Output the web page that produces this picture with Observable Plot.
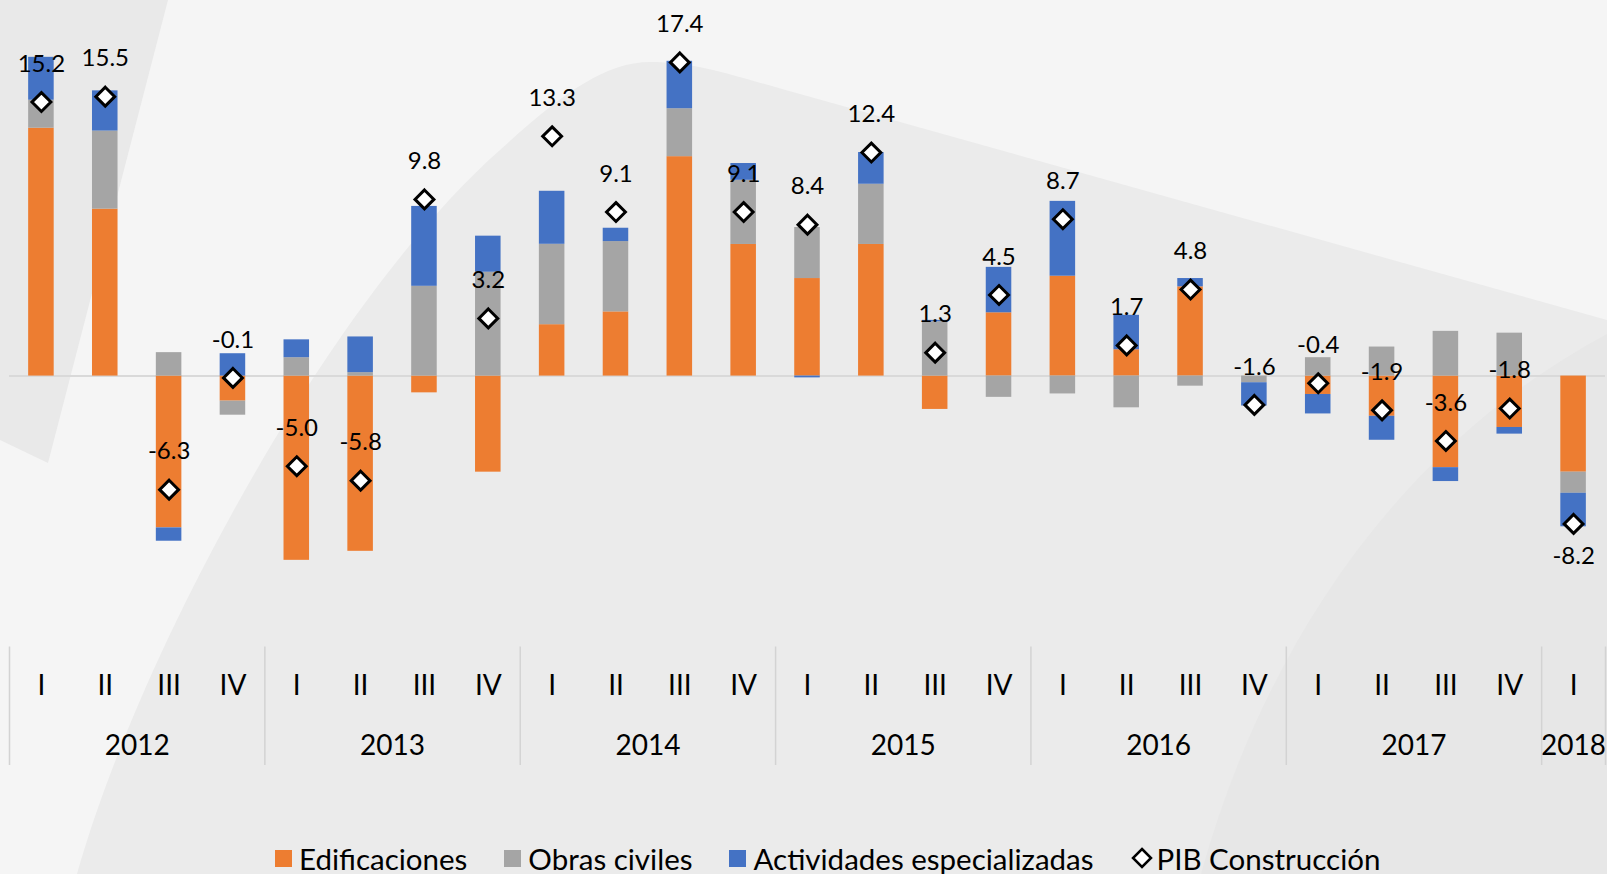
<!DOCTYPE html>
<html>
<head>
<meta charset="utf-8">
<script src="https://cdn.jsdelivr.net/npm/d3@7"></script>
<script src="https://cdn.jsdelivr.net/npm/@observablehq/plot@0.6"></script>
<style>
  html, body { margin: 0; padding: 0; background: #f5f5f5; font-family: Lato, "Open Sans", sans-serif; }
  #wrap { position: relative; width: 1607px; height: 874px; overflow: hidden; }
  #bg { position: absolute; left: 0; top: 0; }
  #chart { position: absolute; left: 0; top: 0; }
  #legend { position: absolute; left: 275px; top: 838px; height: 40px; display: flex; align-items: center;
            font-size: 29.5px; color: #000; white-space: nowrap; }
  .item { display: flex; align-items: center; margin-right: 37px; }
  .sw { width: 17px; height: 17px; margin-right: 7px; display: inline-block; }
  .dia { margin-right: 4px; }
</style>
</head>
<body>
<div id="wrap">
  <svg id="bg" width="1607" height="874">
    <path d="M0,0 L168,0 L48,463 L0,440 Z" fill="#e9e9e9"/>
    <path d="M77,874 C140,650 330,300 500,150 C560,95 605,62 650,62 C700,62 740,78 800,94 L1607,320 L1607,874 Z" fill="#ebebeb"/>
    <path d="M1201,874 C1260,660 1390,450 1607,334 L1607,874 Z" fill="#e7e7e7"/>
  </svg>
  <div id="chart"></div>
  <div id="legend"></div>
</div>
<script>
// ---- Data ----
const anio = [2012,2012,2012,2012,2013,2013,2013,2013,2014,2014,2014,2014,
              2015,2015,2015,2015,2016,2016,2016,2016,2017,2017,2017,2017,2018];
const trimestre = ["I","II","III","IV","I","II","III","IV","I","II","III","IV",
                   "I","II","III","IV","I","II","III","IV","I","II","III","IV","I"];
const edificaciones = [13.75, 9.26, -8.42, -1.39, -10.22, -9.72, -0.93, -5.33, 2.85, 3.56, 12.17, 7.30,
                       5.41, 7.30, -1.85, 3.51, 5.54, 1.46, 4.95, 0, -1.02, -2.23, -5.08, -2.85, -5.33];
const obrasCiviles = [1.55, 4.33, 1.30, -0.78, 1.02, 0.19, 4.98, 5.76, 4.46, 3.90, 2.66, 3.56,
                      2.83, 3.34, 3.01, -1.18, -0.99, -1.76, -0.56, -0.37, 1.02, 1.61, 2.48, 2.38, -1.17];
const actividades = [2.38, 2.23, -0.74, 1.24, 0.99, 1.98, 4.43, 2.00, 2.94, 0.74, 2.63, 0.93,
                     -0.10, 1.76, 0.08, 2.52, 4.15, 1.91, 0.46, -1.29, -1.08, -1.33, -0.77, -0.37, -1.86];
const pibConstruccion = [15.2, 15.5, -6.3, -0.1, -5.0, -5.8, 9.8, 3.2, 13.3, 9.1, 17.4, 9.1,
                         8.4, 12.4, 1.3, 4.5, 8.7, 1.7, 4.8, -1.6, -0.4, -1.9, -3.6, -1.8, -8.2];
const series = ["Edificaciones", "Obras civiles", "Actividades especializadas"];
const colores = ["#ED7D31", "#A5A5A5", "#4472C4"];
const pibNombre = "PIB Construcción";

// ---- Derived tables ----
const periodo = anio.map((a, i) => a + "-" + trimestre[i]);
const valoresSerie = [edificaciones, obrasCiviles, actividades];
const largo = [];
series.forEach((s, k) => valoresSerie[k].forEach((v, i) => largo.push({periodo: periodo[i], serie: s, valor: v})));
const pib = pibConstruccion.map((v, i) => ({periodo: periodo[i], valor: v}));
const minPib = d3.min(pibConstruccion);
const aniosUnicos = Array.from(new Set(anio));
const aniosCompletos = aniosUnicos.filter(a => anio.filter(x => x === a).length === 4);
const aniosParciales = aniosUnicos.filter(a => anio.filter(x => x === a).length !== 4);
const inicioAnio = aniosUnicos.map(a => a + "-" + trimestre[anio.indexOf(a)]);

// ---- Layout ----
const W = 1607, H = 790, mL = 9, mR = 2, mT = 15, mB = 25;
const step = (W - mL - mR) / periodo.length;

const chart = Plot.plot({
  width: W, height: H,
  marginLeft: mL, marginRight: mR, marginTop: mT, marginBottom: mB,
  style: {background: "transparent", fontFamily: "Lato, 'Open Sans', sans-serif", color: "#000", overflow: "visible"},
  x: {type: "band", domain: periodo, paddingInner: 0.6, paddingOuter: 0.3, round: false, axis: null},
  y: {domain: [-21.6, 20], axis: null},
  color: {domain: series, range: colores},
  marks: [
    Plot.ruleY([0], {stroke: "#d9d9d9", strokeWidth: 2}),
    Plot.barY(largo, {x: "periodo", y: "valor", fill: "serie"}),
    Plot.dot(pib, {x: "periodo", y: "valor", symbol: "diamond2", r: 8.5, fill: "white", stroke: "black", strokeWidth: 3}),
    Plot.text(pib, {filter: d => d.valor !== minPib, x: "periodo", y: "valor", text: d => d.valor.toFixed(1),
                    dy: -38, fontSize: 24, fill: "#000"}),
    Plot.text(pib, {filter: d => d.valor === minPib, x: "periodo", y: "valor", text: d => d.valor.toFixed(1),
                    dy: 32, fontSize: 24, fill: "#000"}),
    // quarter labels
    Plot.text(periodo, {x: d => d, text: (d, i) => trimestre[i], frameAnchor: "bottom", lineAnchor: "middle",
                        dy: -79, fontSize: 28, fill: "#000"}),
    // year labels
    Plot.text(aniosCompletos, {x: d => d + "-II", text: d => String(d), dx: step / 2, frameAnchor: "bottom", lineAnchor: "middle",
                               dy: -19.5, fontSize: 28, fill: "#000"}),
    Plot.text(aniosParciales, {x: d => d + "-I", text: d => String(d), frameAnchor: "bottom", lineAnchor: "middle",
                               dy: -19.5, fontSize: 28, fill: "#000"}),
    // year separators
    Plot.ruleX(inicioAnio, {x: d => d, dx: -step / 2, insetTop: 646.5 - mT, stroke: "#d3d3d3", strokeWidth: 1.5}),
    Plot.ruleX([periodo[periodo.length - 1]], {x: d => d, dx: step / 2, insetTop: 646.5 - mT, stroke: "#d3d3d3", strokeWidth: 1.5})
  ]
});
document.getElementById("chart").appendChild(chart);

// ---- Legend ----
const legend = d3.select("#legend");
series.forEach((s, k) => {
  const it = legend.append("div").attr("class", "item");
  it.append("span").attr("class", "sw").style("background", colores[k]);
  it.append("span").text(s);
});
const it = legend.append("div").attr("class", "item");
const sv = it.append("svg").attr("class", "dia").attr("width", 22).attr("height", 22);
sv.append("path").attr("d", "M11,2 L20,11 L11,20 L2,11 Z").attr("fill", "white").attr("stroke", "black").attr("stroke-width", 2.5);
it.append("span").text(pibNombre);
</script>
</body>
</html>
